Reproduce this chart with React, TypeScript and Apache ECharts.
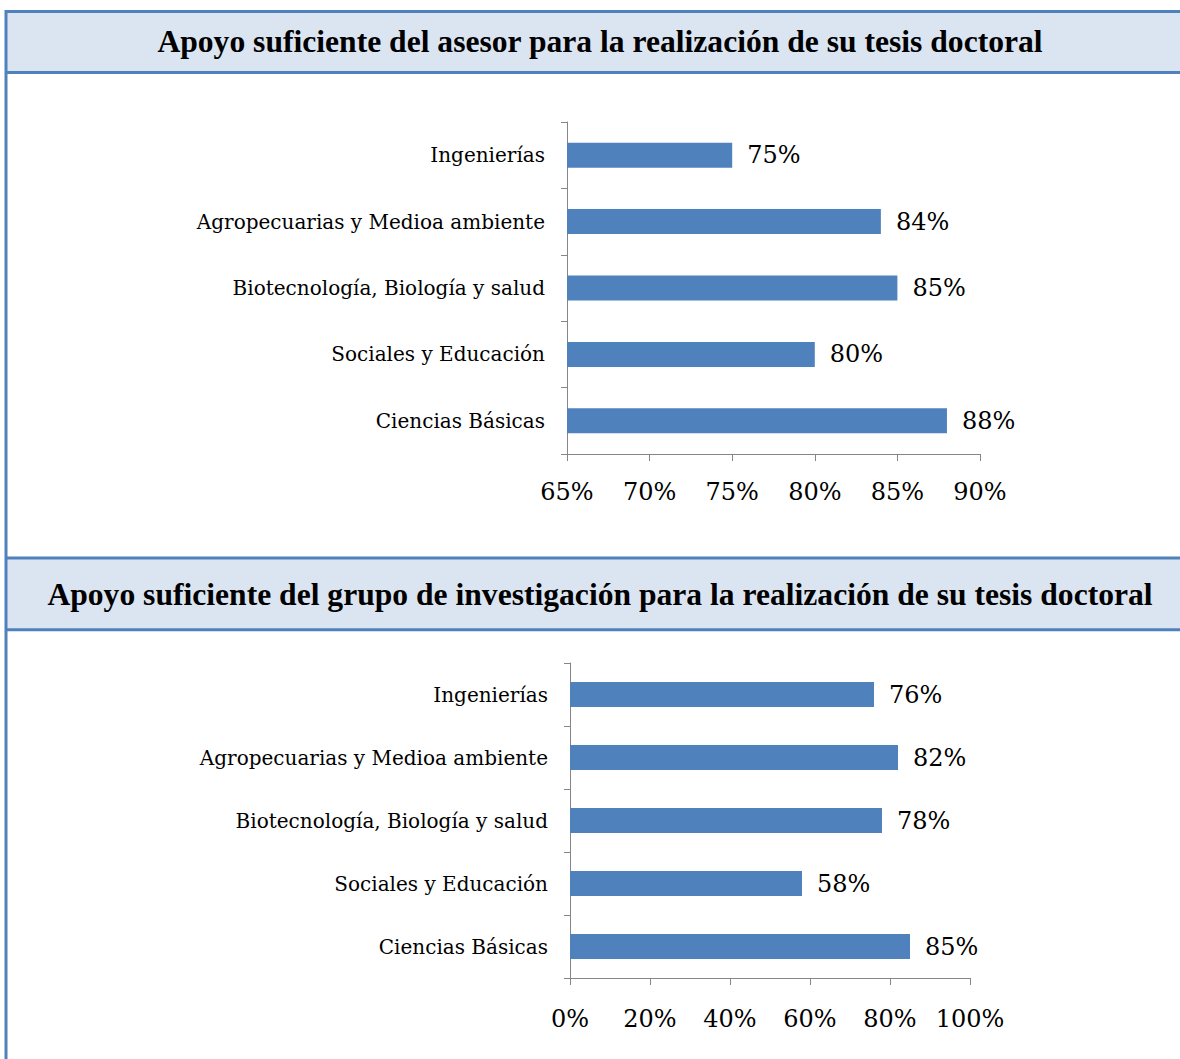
import React, { useEffect, useRef } from "react";
import * as echarts from "echarts";

const categories = [
  "Ingenierías",
  "Agropecuarias y Medioa ambiente",
  "Biotecnología, Biología y salud",
  "Sociales y Educación",
  "Ciencias Básicas",
];
const asesorValues = [75, 84, 85, 80, 88];
const grupoValues = [76, 82, 78, 58, 85];
const title1 = "Apoyo suficiente del asesor para la realización de su tesis doctoral";
const title2 = "Apoyo suficiente del grupo de investigación para la realización de su tesis doctoral";

const BLUE = "#4f81bd";
const HEAD_BG = "#dbe5f1";
const AXIS = "#868686";
const FONT = "DejaVu Serif";

export default function App() {
  const ref = useRef<HTMLDivElement>(null);
  useEffect(() => {
    if (!ref.current) return;
    const chart = echarts.init(ref.current, null, { renderer: "svg" });
    const yAxisCommon = (gridIndex: number) => ({
      type: "category" as const,
      gridIndex,
      data: categories,
      inverse: true,
      axisLine: { show: true, lineStyle: { color: AXIS, width: 1 } },
      axisTick: { show: true, length: 6, lineStyle: { color: AXIS } },
      axisLabel: { color: "#000", fontFamily: FONT, fontSize: 20, margin: 22 },
      splitLine: { show: false },
    });
    const xAxisCommon = (gridIndex: number, min: number, max: number, interval: number, margin: number) => ({
      type: "value" as const,
      gridIndex,
      min,
      max,
      interval,
      axisLine: { show: true, lineStyle: { color: AXIS, width: 1 } },
      axisTick: { show: true, length: 7, lineStyle: { color: AXIS } },
      splitLine: { show: false },
      axisLabel: {
        color: "#000",
        fontFamily: FONT,
        fontSize: 24,
        margin,
        formatter: (v: number) => `${v}%`,
      },
    });
    const labelCommon = {
      show: true,
      position: "right" as const,
      distance: 15,
      color: "#000",
      fontFamily: FONT,
      fontSize: 24,
      formatter: (p: any) => `${p.value}%`,
    };
    chart.setOption({
      animation: false,
      backgroundColor: "#ffffff",
      grid: [
        { left: 567, width: 413, top: 122, height: 332 },
        { left: 570, width: 400, top: 663, height: 315 },
      ],
      xAxis: [xAxisCommon(0, 65, 90, 5, 26), xAxisCommon(1, 0, 100, 20, 29)],
      yAxis: [yAxisCommon(0), yAxisCommon(1)],
      series: [
        {
          type: "bar",
          xAxisIndex: 0,
          yAxisIndex: 0,
          data: asesorValues,
          barWidth: 25,
          itemStyle: { color: BLUE },
          label: labelCommon,
        },
        {
          type: "bar",
          xAxisIndex: 1,
          yAxisIndex: 1,
          data: grupoValues,
          barWidth: 25,
          itemStyle: { color: BLUE },
          label: labelCommon,
        },
      ],
      graphic: [
        { type: "rect", shape: { x: 5, y: 11, width: 1180, height: 62 }, style: { fill: HEAD_BG }, z: 0 },
        { type: "rect", shape: { x: 5, y: 558, width: 1180, height: 72 }, style: { fill: HEAD_BG }, z: 0 },
        { type: "line", shape: { x1: 5, y1: 11.5, x2: 1180, y2: 11.5 }, style: { stroke: BLUE, lineWidth: 3 }, z: 2 },
        { type: "line", shape: { x1: 5, y1: 72.5, x2: 1180, y2: 72.5 }, style: { stroke: BLUE, lineWidth: 3 }, z: 2 },
        { type: "line", shape: { x1: 5, y1: 558, x2: 1180, y2: 558 }, style: { stroke: BLUE, lineWidth: 3 }, z: 2 },
        { type: "line", shape: { x1: 5, y1: 629.7, x2: 1180, y2: 629.7 }, style: { stroke: BLUE, lineWidth: 3 }, z: 2 },
        { type: "line", shape: { x1: 6, y1: 10, x2: 6, y2: 1059 }, style: { stroke: BLUE, lineWidth: 3 }, z: 2 },
        {
          type: "text",
          x: 600,
          y: 41,
          style: {
            text: title1,
            fill: "#000",
            font: `bold 31.6px "Liberation Serif"`,
            textAlign: "center",
            textVerticalAlign: "middle",
          },
          z: 3,
        },
        {
          type: "text",
          x: 600,
          y: 594,
          style: {
            text: title2,
            fill: "#000",
            font: `bold 31.6px "Liberation Serif"`,
            textAlign: "center",
            textVerticalAlign: "middle",
          },
          z: 3,
        },
      ],
    });
    return () => chart.dispose();
  }, []);
  return (
    <div
      ref={ref}
      style={{ position: "absolute", left: 0, top: 0, width: 1180, height: 1059 }}
    />
  );
}
